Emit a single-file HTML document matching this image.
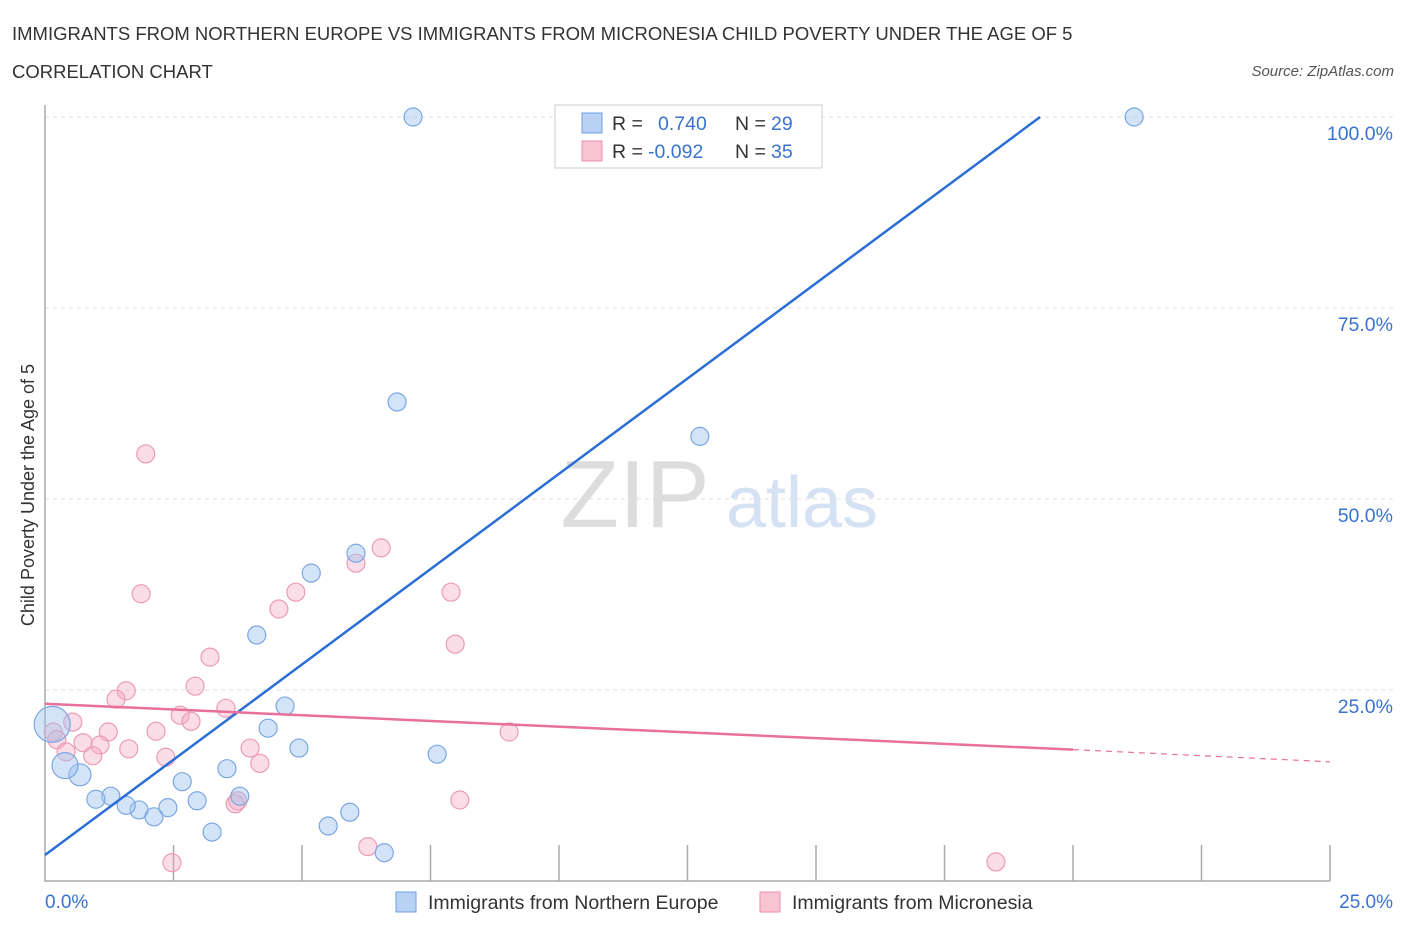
<!DOCTYPE html>
<html><head><meta charset="utf-8"><style>
body{margin:0;background:#fff;font-family:"Liberation Sans",sans-serif}
svg text{font-family:"Liberation Sans",sans-serif}
</style></head><body>
<svg id="c" width="1406" height="930">
<text x="12" y="40" font-size="18.5" fill="#333">IMMIGRANTS FROM NORTHERN EUROPE VS IMMIGRANTS FROM MICRONESIA CHILD POVERTY UNDER THE AGE OF 5</text>
<text x="12" y="78" font-size="18.5" fill="#333">CORRELATION CHART</text>
<text x="1394" y="76" font-size="15" fill="#555" font-style="italic" text-anchor="end">Source: ZipAtlas.com</text>
<text x="635" y="527" font-size="96" fill="#ddd" font-family="Liberation Serif" text-anchor="middle">ZIP</text>
<text x="802" y="527" font-size="72" fill="#d4e2f4" text-anchor="middle">atlas</text>
<text x="34" y="495" font-size="18" fill="#333" text-anchor="middle" transform="rotate(-90 34 495)">Child Poverty Under the Age of 5</text>
<g id="grid"></g><g id="pts"></g><g id="lines"></g>
<g>
<rect x="555" y="105" width="267" height="63" fill="#fff" stroke="#ccc"/>
<rect x="582" y="113" width="20" height="20" fill="#b9d2f4" stroke="#6f9fe0"/>
<rect x="582" y="141" width="20" height="20" fill="#f8c4d4" stroke="#ea90ad"/>
<text x="612" y="130" font-size="19.5" fill="#333">R =</text>
<text x="658" y="130" font-size="19.5" fill="#3a72d0">0.740</text>
<text x="735" y="130" font-size="19.5" fill="#333">N =</text>
<text x="771" y="130" font-size="19.5" fill="#3a72d0">29</text>
<text x="612" y="158" font-size="19.5" fill="#333">R =</text>
<text x="648" y="158" font-size="19.5" fill="#3a72d0">-0.092</text>
<text x="735" y="158" font-size="19.5" fill="#333">N =</text>
<text x="771" y="158" font-size="19.5" fill="#3a72d0">35</text>
</g>
<g>
<rect x="396" y="892" width="20" height="20" fill="#b9d2f4" stroke="#6f9fe0"/>
<text x="428" y="909" font-size="19.5" fill="#333">Immigrants from Northern Europe</text>
<rect x="760" y="892" width="20" height="20" fill="#f8c4d4" stroke="#ea90ad"/>
<text x="792" y="909" font-size="19.5" fill="#333">Immigrants from Micronesia</text>
</g>
<text x="45" y="908" font-size="19" fill="#3a72d0">0.0%</text>
<text x="1393" y="908" font-size="19" fill="#3a72d0" text-anchor="end">25.0%</text>
</svg>
<script>
const blueX=[7.16,10.21,21.19,6.85,12.74,6.05,5.18,4.12,4.67,4.34,4.94,7.63,3.54,2.67,3.79,2.96,2.39,1.83,1.58,1.28,0.99,2.12,3.25,5.51,5.93,6.60,0.68,0.39,0.14];
const blueY=[100,100,100,62.7,58.2,42.9,40.3,32.2,22.9,20.0,17.4,16.6,14.7,13.0,11.1,10.5,9.6,9.3,9.9,11.1,10.7,8.4,6.4,7.2,9.0,3.7,13.9,15.1,20.5];
const blueR=[9,9,9,9,9,9,9,9,9,9,9,9,9,9,9,9,9,9,9,9,9,9,9,9,9,9,11,13,18];
const pinkX=[1.96,1.87,6.54,6.05,4.88,4.55,7.90,7.98,3.21,2.92,1.58,1.38,3.52,2.63,2.84,0.54,2.16,1.23,9.03,0.16,0.23,0.74,1.07,1.63,3.99,2.35,0.93,4.18,0.41,8.07,3.75,3.70,6.28,2.47,18.5];
const pinkY=[55.9,37.6,43.6,41.6,37.8,35.6,37.8,31.0,29.3,25.5,24.9,23.8,22.6,21.7,20.9,20.8,19.6,19.5,19.5,19.5,18.5,18.1,17.8,17.3,17.4,16.2,16.4,15.4,16.9,10.6,10.5,10.1,4.5,2.4,2.5];
const yTicks=[25,50,75,100];
const yTickLabels=["25.0%","50.0%","75.0%","100.0%"];
const blueLine=[[0,3.4],[19.36,100]];
const pinkLine=[[0,23.2],[20,17.2]];
const pinkDash=[[20,17.2],[25,15.6]];
const xs=v=>45+v*51.4, ys=v=>881-v*7.64;
const NS="http://www.w3.org/2000/svg";
function mk(t,a,p){const e=document.createElementNS(NS,t);for(const k in a)e.setAttribute(k,a[k]);p.appendChild(e);return e;}
const g=document.getElementById('grid');
yTicks.forEach((t,i)=>{
 const l=mk('line',{x1:45,x2:1393,y1:ys(t),y2:ys(t),stroke:'#ddd','stroke-dasharray':'4,4'},g);
 
 
 const tx=mk('text',{x:1393,y:ys(t)+23,'font-size':19.5,fill:'#3a72d0','text-anchor':'end'},g);
 tx.textContent=yTickLabels[i];
 
 
});
const ax=mk('path',{d:'M45 105V881H1330',fill:'none',stroke:'#aaa','stroke-width':1.5},g);


for(let i=1;i<=10;i++){
 const t=mk('line',{x1:xs(i*2.5),x2:xs(i*2.5),y1:845,y2:881,stroke:'#aaa','stroke-width':1.5},g);
 
 
}
const p=document.getElementById('pts');
pinkX.forEach((x,i)=>{
 const c=mk('circle',{cx:xs(x),cy:ys(pinkY[i]),r:9,fill:'rgba(244,170,195,0.4)',stroke:'#eb9bb5','stroke-width':1.2},p);
 
 
});
blueX.forEach((x,i)=>{
 const c=mk('circle',{cx:xs(x),cy:ys(blueY[i]),r:blueR[i],fill:'rgba(160,195,240,0.45)',stroke:'#7aa7e2','stroke-width':1.2},p);
 
 
});
const L=document.getElementById('lines');
function ln(d,col,dash,name){const e=mk('line',{x1:xs(d[0][0]),y1:ys(d[0][1]),x2:xs(d[1][0]),y2:ys(d[1][1]),stroke:col,'stroke-width':dash?1.2:2.5},L);if(dash)e.setAttribute('stroke-dasharray','6,5');
 
 }
ln(blueLine,'#2b6fd6',false,'northern-europe-trendline');
ln(pinkLine,'#e8709a',false,'micronesia-trendline');
ln(pinkDash,'#e8709a',true,'micronesia-trendline-extension');
</script>
</body></html>
